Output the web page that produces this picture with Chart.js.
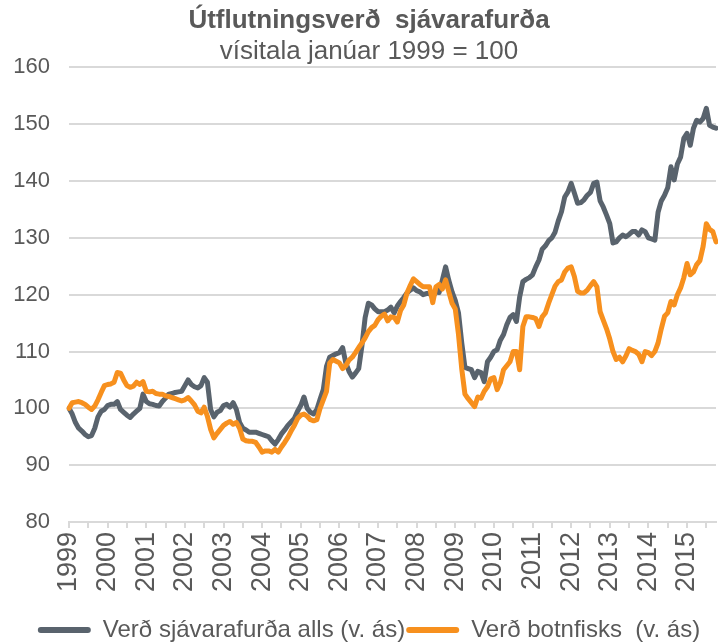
<!DOCTYPE html>
<html>
<head>
<meta charset="utf-8">
<script src="https://cdn.jsdelivr.net/npm/chart.js@4"></script>
<style>
  html, body { margin: 0; padding: 0; background: #fff; }
  #wrap { width: 718px; height: 644px; }
</style>
</head>
<body>
<div id="wrap"><canvas id="myChart" width="718" height="644"></canvas></div>
<script>
const years = ['1999','2000','2001','2002','2003','2004','2005','2006','2007','2008','2009','2010','2011','2012','2013','2014','2015'];
const lastMonth = 10; // gögn ná til okt 2015

// Verð sjávarafurða alls, mánaðarleg vísitala
const sjavarafurdir = [
  100, 99, 97.5, 96.5, 96, 95.4, 95, 95.2, 96.5, 98.5, 99.5, 99.8,
  100.5, 100.7, 100.7, 101.2, 99.8, 99.3, 98.8, 98.4, 99, 99.5, 100, 102.5,
  101.2, 100.8, 100.7, 100.5, 100.4, 101.2, 101.8, 102.5, 102.6, 102.8, 102.9, 103,
  104, 105, 104.2, 103.8, 103.6, 104, 105.4, 104.6, 99.8, 98.5, 99.3, 99.6,
  100.5, 100.7, 100.2, 101, 99.8, 97.5, 96.5, 96.2, 95.8, 95.8, 95.8, 95.6,
  95.4, 95.2, 95, 94.3, 93.7, 94.5, 95.5, 96.2, 97, 97.6, 98.2, 99.5,
  100.5, 102, 100, 99.3, 99, 99.8, 101.6, 103.3, 107.4, 109, 109.3, 109.6,
  109.8, 110.7, 108, 106.5, 105.5, 106.2, 107, 111, 116, 118.5, 118.2, 117.5,
  117, 117, 117, 117.3, 117.8, 116.8, 118, 118.8, 119.5, 120.3, 120.8, 121.2,
  120.7, 120.5, 120, 120.2, 120.2, 119.6, 120.5, 120.4, 122.6, 124.9, 122.5, 120.5,
  119, 116.8, 111.6, 107.2, 107, 106.8, 105.4, 106.5, 106.3, 104.7, 108.2, 109,
  110, 110.3, 112, 113, 114.7, 116, 116.5, 115.3, 119.6, 122.3, 122.7, 123,
  123.5, 124.9, 126.1, 128, 128.6, 129.5, 130, 131, 133, 134.6, 137.2, 138.1,
  139.6, 137.9, 136.1, 136.2, 136.7, 137.5, 138, 139.6, 139.8, 136.5, 135.4, 134,
  132.5, 129.1, 129.3, 130, 130.5, 130.2, 130.6, 131.1, 131.1, 130.5, 131.4, 131.1,
  130, 129.8, 129.6, 134.5, 136.5, 137.5, 138.8, 142.5, 140.2, 143, 144.2, 147.5,
  148.4, 146.3, 149.3, 150.7, 150.4, 151, 152.8, 149.8, 149.5, 149.3
];

// Verð botnfisks, mánaðarleg vísitala
const botnfiskur = [
  100, 101, 101.1, 101.2, 101, 100.7, 100.2, 99.8, 100.4, 101.5, 102.8, 104,
  104.2, 104.3, 104.6, 106.3, 106.2, 105, 104, 103.7, 103.9, 104.6, 104.2, 104.7,
  103, 102.9, 103, 102.6, 102.5, 102.5, 102.2, 102.1, 101.9, 101.7, 101.5, 101.3,
  101.5, 101.9, 101.3, 100.6, 99.5, 99.2, 100.2, 98.6, 96.3, 94.8, 95.6, 96.3,
  97, 97.4, 97.7, 97.2, 97.5, 96.5, 94.6, 94.3, 94.2, 94.2, 94, 93.2,
  92.3, 92.5, 92.5, 92.3, 92.8, 92.3, 93.2, 94, 94.9, 96, 97, 98.2,
  98.8, 99, 98.6, 98, 97.8, 98, 100, 101.5, 103, 108, 108.6, 108.3,
  108, 107, 107.5, 108.5, 109, 109.8, 110.7, 111.5, 112.4, 113.5, 114.2, 114.6,
  115.6, 116.2, 116.6, 115.4, 116.1, 116, 115.2, 117.2, 118.2, 120.3, 121.6, 122.8,
  122.3, 121.8, 121.4, 121.4, 121.4, 118.6, 121.4, 121.8, 121, 122.6, 120.5, 118.5,
  117.5, 113, 107, 102.5, 101.7, 101, 100.3, 102, 101.8, 103, 103.8, 105.2,
  105.4, 103.3, 104.5, 106.8, 107.5, 108.2, 110, 110, 106.8, 114.4, 116.1, 116.1,
  116, 115.8, 114.4, 116.1, 116.8, 118.5, 120, 121.5, 122.3, 122.6, 124, 124.7,
  124.9, 123.2, 120.6, 120.3, 120.3, 120.8, 121.6, 122.3, 121.4, 117, 115.5, 114,
  112.2, 110, 108.6, 109, 108.2, 109.2, 110.5, 110.2, 110, 109.5, 108.2, 110,
  109.8, 109.3, 110, 111.5, 114, 116.2, 116.8, 118.8, 118.2, 120, 121.2, 123,
  125.5, 123.5, 124, 125.3, 126, 128.5, 132.5, 131.5, 131.1, 129.3
];

// mánaðarmerki, t.d. 1999-01
const labels = [];
years.forEach((y, i) => {
  const n = i === years.length - 1 ? lastMonth : 12;
  for (let m = 1; m <= n; m++) labels.push(y + '-' + String(m).padStart(2, '0'));
});

const textColor = '#595959';
const gridColor = '#d9d9d9';
const fontFam = "'Liberation Sans', Arial, sans-serif";

const ctx = document.getElementById('myChart').getContext('2d');
new Chart(ctx, {
  type: 'line',
  data: {
    labels: labels,
    datasets: [{
      label: 'Verð sjávarafurða alls (v. ás)',
      data: sjavarafurdir,
      borderColor: '#59636d',
      backgroundColor: '#59636d',
      borderWidth: 5,
      pointRadius: 0,
      borderJoinStyle: 'round',
      borderCapStyle: 'round',
      order: 1
    }, {
      label: 'Verð botnfisks  (v. ás)',
      data: botnfiskur,
      borderColor: '#f7901e',
      backgroundColor: '#f7901e',
      borderWidth: 5,
      pointRadius: 0,
      borderJoinStyle: 'round',
      borderCapStyle: 'round',
      order: 0
    }]
  },
  options: {
    responsive: false,
    animation: false,
    // neikvætt hægra bil færir titil og skýringar aðeins til hægri
    layout: { padding: { left: 0, right: -20, top: 0, bottom: -8 } },
    plugins: {
      title: {
        display: true,
        text: 'Útflutningsverð  sjávarafurða',
        color: textColor,
        font: { family: fontFam, size: 26, weight: 'bold' },
        padding: { top: 5, bottom: 0 }
      },
      subtitle: {
        display: true,
        text: 'vísitala janúar 1999 = 100',
        color: textColor,
        font: { family: fontFam, size: 26 },
        padding: { top: 0, bottom: 0 }
      },
      legend: {
        position: 'bottom',
        labels: {
          color: textColor,
          font: { family: fontFam, size: 24 },
          boxWidth: 53,
          boxHeight: 6,
          useBorderRadius: true,
          borderRadius: 3,
          padding: 1,
          sort: (a, b) => a.datasetIndex - b.datasetIndex,
          generateLabels: (chart) => {
            const items = Chart.defaults.plugins.legend.labels.generateLabels(chart);
            items.forEach(it => { it.lineWidth = 0; });
            return items;
          }
        }
      },
      tooltip: { enabled: false }
    },
    scales: {
      x: {
        type: 'category',
        offset: false,
        afterFit: (s) => { s.paddingLeft = 0; s.paddingRight = 2; s.height = 95; },
        grid: {
          drawOnChartArea: false,
          drawTicks: true,
          tickLength: 6,
          lineWidth: 2,
          color: (c) => (c.index % 6 === 0 ? gridColor : 'rgba(0,0,0,0)')
        },
        border: { display: true, color: gridColor, width: 2 },
        ticks: {
          autoSkip: false,
          maxRotation: 90,
          minRotation: 90,
          color: textColor,
          padding: 4,
          font: { family: fontFam, size: 27 },
          callback: (v, i) => (i % 12 === 0 ? labels[i].slice(0, 4) : '')
        }
      },
      y: {
        min: 80,
        max: 160,
        afterFit: (s) => { s.width = 69; },
        ticks: {
          stepSize: 10,
          color: textColor,
          padding: 19,
          font: { family: fontFam, size: 22 }
        },
        grid: { color: gridColor, lineWidth: 2, drawTicks: false },
        border: { display: false }
      }
    }
  }
});
</script>
</body>
</html>
